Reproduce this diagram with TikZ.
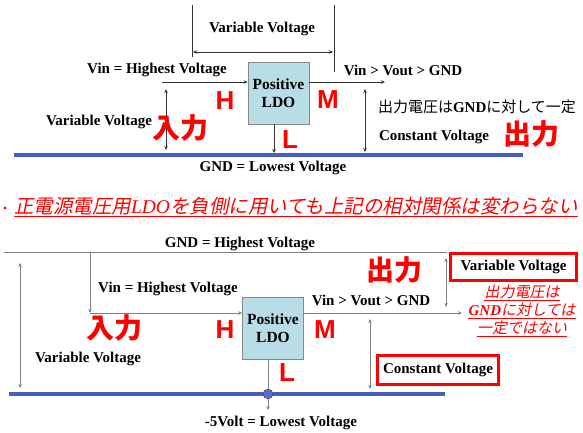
\documentclass[tikz,border=0pt]{standalone}
\usepackage{fontspec}
\setmainfont{Liberation Serif}
\setsansfont{Liberation Sans}
\newfontfamily\cjk{Noto Sans CJK JP}
\newfontfamily\cjkit[FakeSlant=0.2]{Noto Sans CJK JP}
\usetikzlibrary{arrows.meta}
\definecolor{ldofill}{HTML}{B8DDE6}
\definecolor{ldoedge}{HTML}{808A8C}
\definecolor{railblue}{HTML}{4A5CC0}
\definecolor{jpred}{HTML}{FF0000}
\begin{document}
\begin{tikzpicture}[
    x=1pt, y=-1pt,
    >={Stealth[length=4pt,width=3.5pt]},
    lbl/.style={font=\fontsize{15}{17}\selectfont\bfseries, inner sep=0pt},
    ldo/.style={draw=ldoedge, fill=ldofill, line width=0.8pt, minimum width=61pt,
      minimum height=62pt, align=center, font=\fontsize{15.5}{17.5}\selectfont\bfseries},
    hml/.style={text=jpred, font=\fontsize{26}{26}\selectfont\sffamily\bfseries, inner sep=0pt},
    jbig/.style={text=jpred, font=\cjk\fontsize{28}{28}\selectfont\bfseries, inner sep=0pt},
    jnote/.style={text=jpred, font=\cjkit\fontsize{15}{18}\selectfont, inner sep=0pt},
    uline/.style={jpred, line width=0.8pt},
    rail/.style={railblue, line width=4pt},
    wire/.style={black!80, line width=0.6pt},
    wire2/.style={black!50, line width=0.6pt},
    redbox/.style={draw=jpred, line width=3pt, inner sep=0pt}
  ]
  \useasboundingbox (0,0) rectangle (583,433);

  % upper circuit: positive LDO between Vin and GND
  \node[ldo] (ldoA) at (278.5,93) {Positive\\LDO};
  \coordinate (spanLt) at (192,5);  \coordinate (spanLb) at (192,57);
  \coordinate (spanRt) at (334,5);  \coordinate (spanRb) at (334,72);
  \draw[wire] (spanLt) -- (spanLb);
  \draw[wire] (spanRt) -- (spanRb);
  \coordinate (vvL) at (193,52);  \coordinate (vvR) at (333,52);
  \draw[wire,<->] (vvL) -- (vvR);
  \node[lbl] (spanlbl) at (262,29) {Variable Voltage};
  \node[lbl] (vinA) at (157,70) {Vin = Highest Voltage};
  \node[lbl] (voutA) at (403,70) {Vin > Vout > GND};
  \coordinate (inA) at (162,82);
  \coordinate (outA) at (385,82);
  \coordinate (gndA) at (274,153);
  \draw[wire,->] (inA) -- (inA -| ldoA.west);
  \draw[wire,->] (outA -| ldoA.east) -- (outA);
  \draw[wire,->] (gndA |- ldoA.south) -- (gndA);
  \coordinate (railAL) at (14,155);  \coordinate (railAR) at (523,155);
  \draw[rail] (railAL) -- (railAR);
  \node[lbl] (gndlblA) at (273,168) {GND = Lowest Voltage};
  % input side
  \coordinate (inTopA) at (166,89);  \coordinate (inBotA) at (166,150);
  \draw[wire,<->] (inTopA) -- (inBotA);
  \node[lbl] (varA) at (99,122) {Variable Voltage};
  \node[jbig] (nyuA) at (180,128) {入力};
  \node[hml] (hA) at (225,101) {H};
  \node[hml] (mA) at (328,100) {M};
  \node[hml] (lA) at (290,140) {L};
  % output side
  \coordinate (outTopA) at (365,89);  \coordinate (outBotA) at (365,152);
  \draw[wire,<->] (outTopA) -- (outBotA);
  \node[font=\fontsize{15}{17}\selectfont, inner sep=0pt] (noteA) at (477,107)
    {{\cjk 出力電圧は}\textbf{GND}{\cjk に対して一定}};
  \node[lbl] (constA) at (434,137) {Constant Voltage};
  \node[jbig] (shutA) at (531,134) {出力};

  % remark line
  \fill[jpred] (5,208) circle (1.6pt);
  \node[font=\fontsize{19.5}{22}\selectfont, text=jpred, inner sep=0pt] (remark) at (296,206)
    {{\cjkit 正電源電圧用}\textit{LDO}{\cjkit を負側に用いても上記の相対関係は変わらない}};
  \draw[uline] ([yshift=-1.5pt]remark.south west) -- ([yshift=-1.5pt]remark.south east);

  % lower circuit: same LDO on the negative side
  \node[ldo] (ldoB) at (273,328) {Positive\\LDO};
  \coordinate (topBL) at (4,252);  \coordinate (topBR) at (447,252);
  \draw[wire2] (topBL) -- (topBR);
  \node[lbl] (gndlblB) at (240,244) {GND = Highest Voltage};
  \coordinate (dropB) at (90,252);  \coordinate (inB) at (90,313);
  \draw[wire2,->] (dropB) -- (inB);
  \draw[wire2,->] (inB) -- (inB -| ldoB.west);
  \node[lbl] (vinB) at (168,289) {Vin = Highest Voltage};
  \coordinate (spanTopB) at (20,263);  \coordinate (spanBotB) at (20,388);
  \draw[wire2,<->] (spanTopB) -- (spanBotB);
  \node[lbl] (varB) at (88,359) {Variable Voltage};
  \node[jbig] (nyuB) at (114,328) {入力};
  \node[hml] (hB) at (225,330) {H};
  \node[hml] (mB) at (325,330) {M};
  \node[hml] (lB) at (287,373) {L};
  \coordinate (railBL) at (9,394);  \coordinate (railBR) at (445,394);
  \draw[rail] (railBL) -- (railBR);
  \node[circle, draw=black!70, fill=railblue!90, minimum size=10pt, inner sep=0pt] (tapB) at (268,394) {};
  \coordinate (negB) at (268,410);
  \draw[wire2] (tapB |- ldoB.south) -- (tapB);
  \draw[wire2,->] (tapB) -- (negB);
  \node[lbl] (negLbl) at (281,423) {-5Volt = Lowest Voltage};
  % output side
  \coordinate (outB) at (462,313);
  \draw[wire2,->] (outB -| ldoB.east) -- (outB);
  \node[lbl] (voutB) at (371,300) {Vin > Vout > GND};
  \node[jbig] (shutB) at (394,270) {出力};
  \coordinate (vTopB) at (446,258);  \coordinate (vBotB) at (446,307);
  \draw[wire2,<->] (vTopB) -- (vBotB);
  \node[lbl, redbox, minimum width=126pt, minimum height=27pt] (varBoxB) at (513.5,267) {Variable Voltage};
  \node[jnote] (noteB1) at (522,292) {出力電圧は};
  \node[jnote] (noteB2) at (522,310) {{\rmfamily\itshape\bfseries GND}に対しては};
  \node[jnote] (noteB3) at (522,328) {一定ではない};
  \draw[uline] ([yshift=-1pt]noteB1.south west) -- ([yshift=-1pt]noteB1.south east);
  \draw[uline] ([yshift=-1pt]noteB2.south west) -- ([yshift=-1pt]noteB2.south east);
  \draw[uline] ([yshift=-1pt]noteB3.south west) -- ([yshift=-1pt]noteB3.south east);
  \coordinate (cTopB) at (370,319);  \coordinate (cBotB) at (370,389);
  \draw[wire2,<->] (cTopB) -- (cBotB);
  \node[lbl, redbox, minimum width=121pt, minimum height=29pt] (constBoxB) at (438,370) {Constant Voltage};
\end{tikzpicture}
\end{document}
